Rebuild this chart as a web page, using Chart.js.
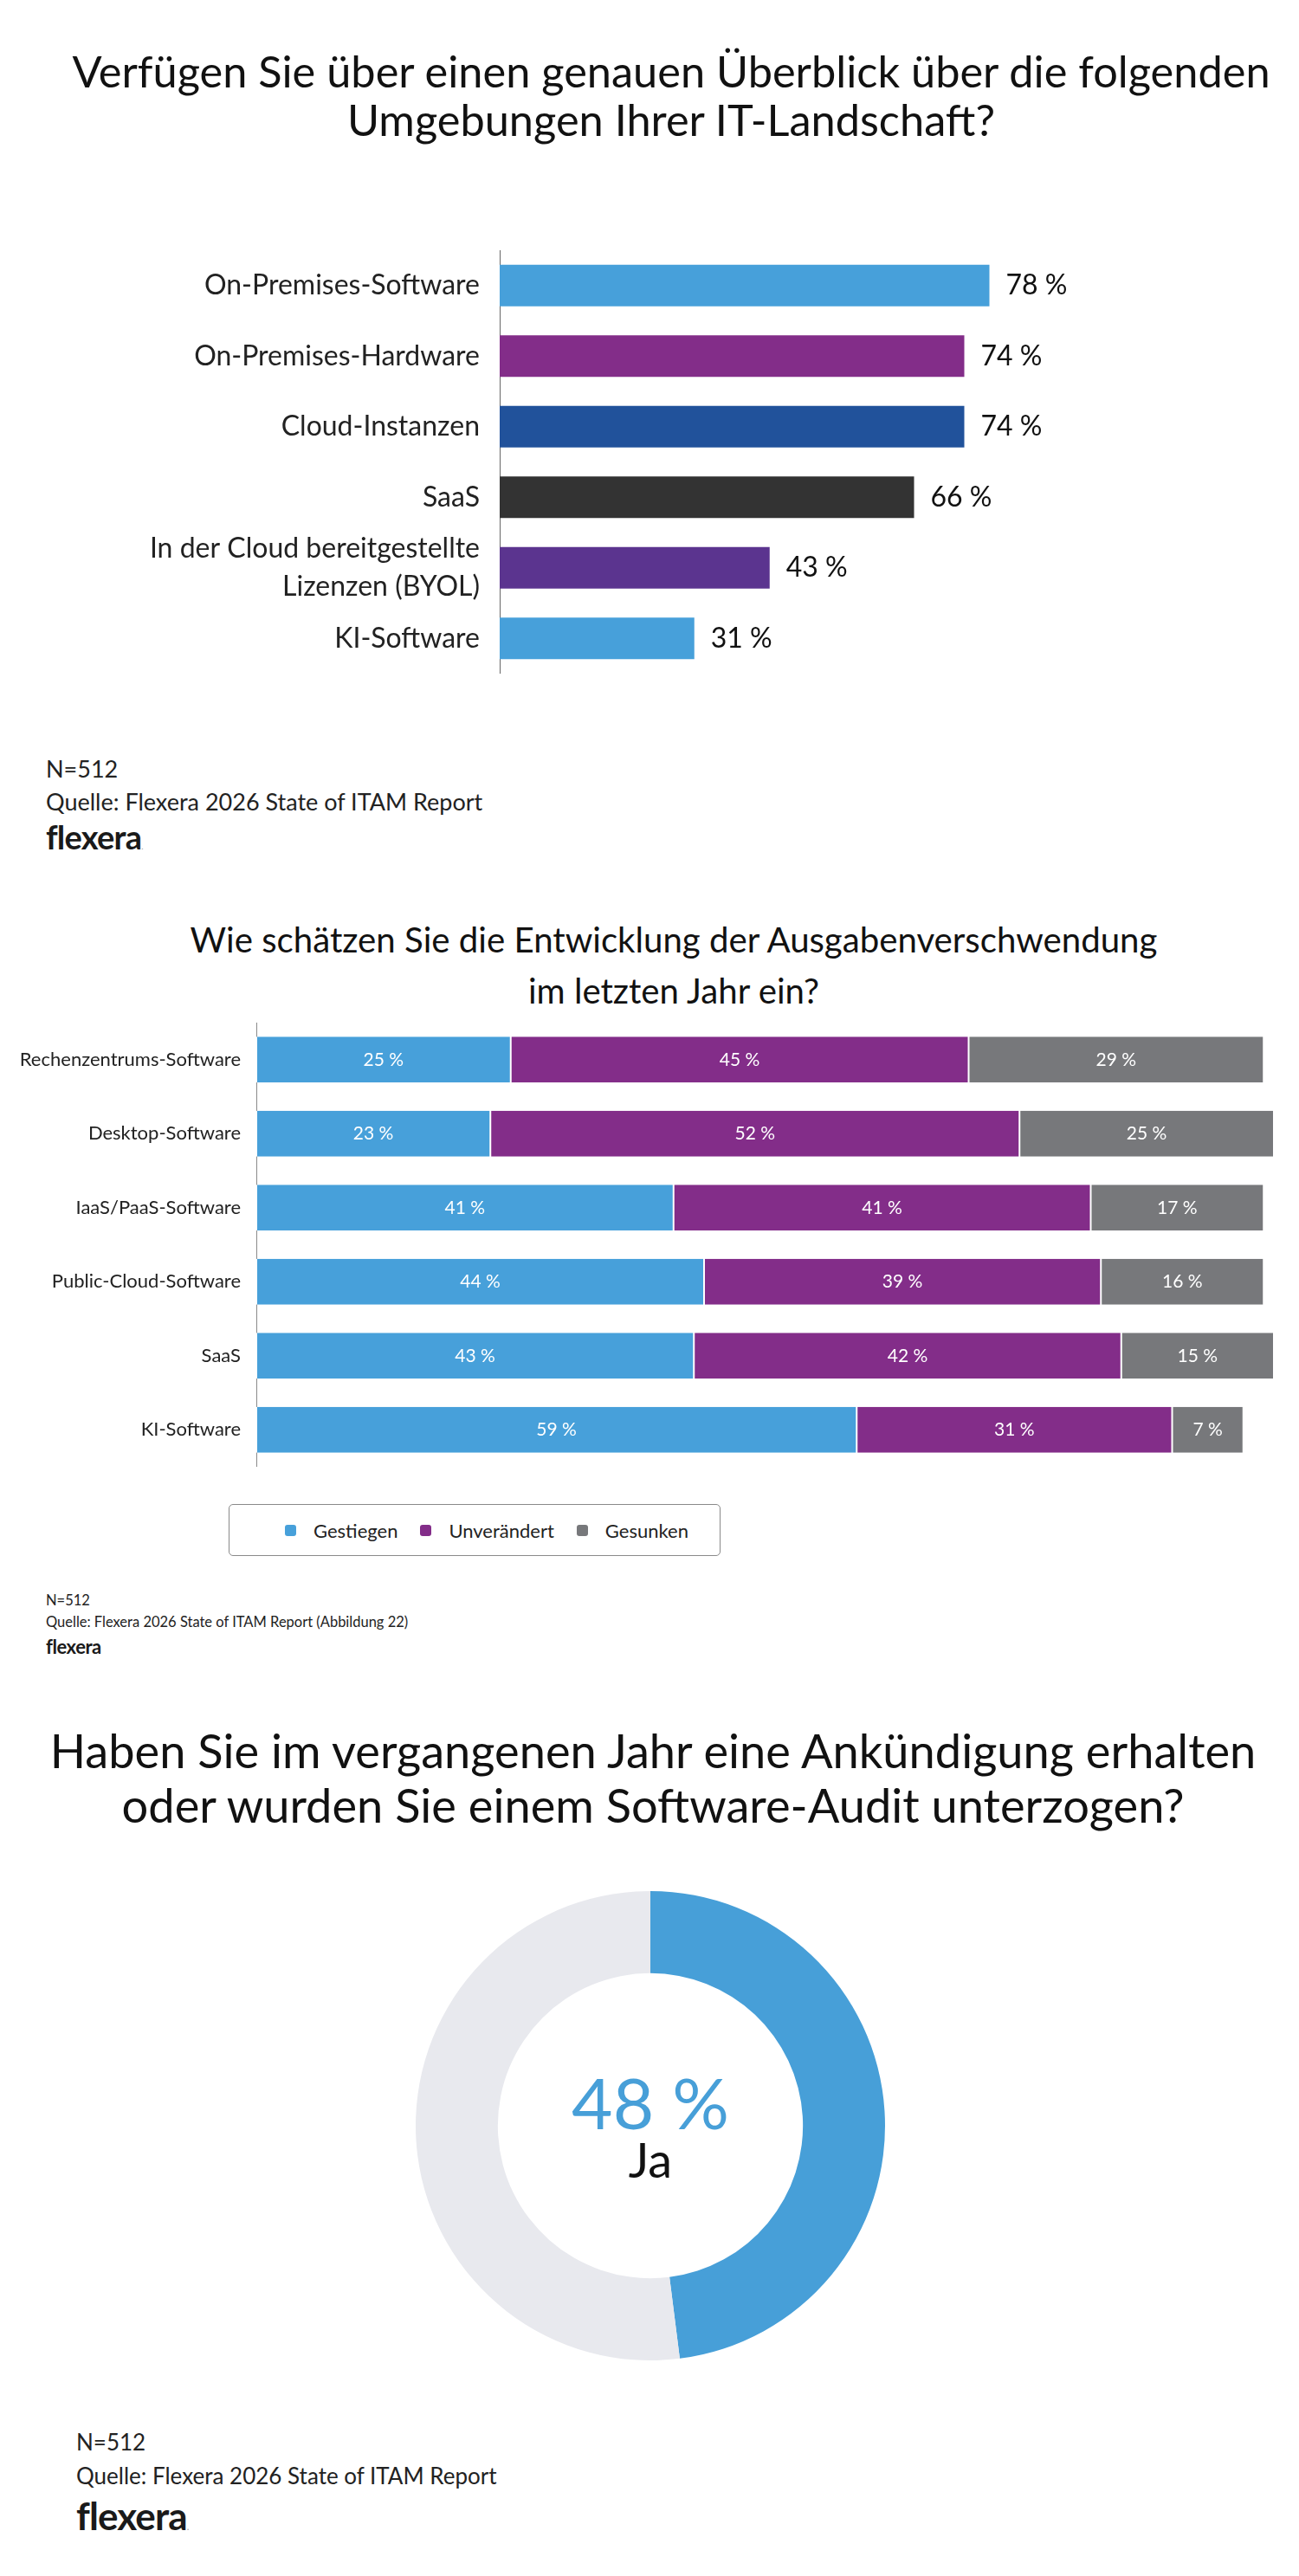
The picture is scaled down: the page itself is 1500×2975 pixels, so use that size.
<!DOCTYPE html>
<html lang="de">
<head>
<meta charset="utf-8">
<title>Flexera 2026 State of ITAM – Auszüge</title>
<script src="https://cdn.jsdelivr.net/npm/chart.js@4.4.1/dist/chart.umd.min.js"></script>
<style>
  html, body { margin: 0; padding: 0; background: #fff; }
  body { width: 1500px; height: 2975px; position: relative; overflow: hidden; font-family: Lato, "Noto Sans", sans-serif; color: #111; }
  .abs { position: absolute; }
  .title { left: 0; width: 1500px; text-align: center; white-space: nowrap; color: #111; box-sizing: border-box; }
  .foot { white-space: nowrap; color: #222; }
  .logo { font-weight: 700; letter-spacing: -0.02em; color: #1a1a1a; }
  .logo span { font-size: 0.25em; color: #999; font-weight: 400; }
  canvas { position: absolute; }
  .legend { border: 1.5px solid #8a8a8a; border-radius: 5px; box-sizing: border-box; display: flex; align-items: center; font-size: 22px; color: #222; }
  .legend .item { display: flex; align-items: center; }
  .legend .sw { width: 13px; height: 13px; border-radius: 3px; margin-right: 20px; }
</style>
</head>
<body>

<div class="abs title" style="top:54px; font-size:50.5px; line-height:56px; padding-left:50px;">
  Verfügen Sie über einen genauen Überblick über die folgenden<br>Umgebungen Ihrer IT-Landschaft?
</div>
<canvas id="envChart" width="1500" height="489" style="left:0; top:289px;"></canvas>
<div class="abs foot" style="left:53px; top:871px; font-size:27px; line-height:33px;">N=512</div>
<div class="abs foot" style="left:53px; top:909px; font-size:27px; line-height:33px;">Quelle: Flexera 2026 State of ITAM Report</div>
<div class="abs logo" style="left:53px; top:943px; font-size:38px; line-height:46px;">flexera<span>.</span></div>

<div class="abs title" style="top:1055px; font-size:40.2px; line-height:59px; padding-left:56px;">
  Wie schätzen Sie die Entwicklung der Ausgabenverschwendung<br>im letzten Jahr ein?
</div>
<canvas id="wasteChart" width="1500" height="513" style="left:0; top:1181px;"></canvas>
<div id="wasteLegend" class="abs legend" style="left:264px; top:1737px; width:568px; height:60px; padding-left:64px;"></div>
<div class="abs foot" style="left:53px; top:1838px; font-size:16.5px; line-height:20px;">N=512</div>
<div class="abs foot" style="left:53px; top:1863px; font-size:16.5px; line-height:20px;">Quelle: Flexera 2026 State of ITAM Report (Abbildung 22)</div>
<div class="abs logo" style="left:53px; top:1889px; font-size:22px; line-height:26px;">flexera</div>

<div class="abs title" style="top:1990px; font-size:54.2px; line-height:63px; padding-left:8px;">
  Haben Sie im vergangenen Jahr eine Ankündigung erhalten<br>oder wurden Sie einem Software-Audit unterzogen?
</div>
<canvas id="auditChart" width="546" height="546" style="left:478px; top:2182px;"></canvas>
<div class="abs foot" style="left:88px; top:2804px; font-size:26px; line-height:32px;">N=512</div>
<div class="abs foot" style="left:88px; top:2843px; font-size:26px; line-height:32px;">Quelle: Flexera 2026 State of ITAM Report</div>
<div class="abs logo" style="left:88px; top:2879px; font-size:44px; line-height:52px;">flexera<span>.</span></div>

<script>
// --- chart 1: overview of IT environments
const envLabels = [
  'On-Premises-Software',
  'On-Premises-Hardware',
  'Cloud-Instanzen',
  'SaaS',
  ['In der Cloud bereitgestellte', 'Lizenzen (BYOL)'],
  'KI-Software',
];
const envValues = [78, 74, 74, 66, 43, 31];
const envColors = ['#47a0da', '#832d89', '#21529b', '#333333', '#5b348f', '#47a0da'];

// --- chart 2: development of wasted spend
const wasteLabels = [
  'Rechenzentrums-Software',
  'Desktop-Software',
  'IaaS/PaaS-Software',
  'Public-Cloud-Software',
  'SaaS',
  'KI-Software',
];
const wasteSeries = ['Gestiegen', 'Unverändert', 'Gesunken'];
const wasteUp = [25, 23, 41, 44, 43, 59];
const wasteSame = [45, 52, 41, 39, 42, 31];
const wasteDown = [29, 25, 17, 16, 15, 7];
const wasteColors = ['#47a0da', '#832d89', '#77787b'];

// --- chart 3: audits
const auditLabels = ['Ja', 'Nein'];
const auditValues = [48, 52];
const auditColors = ['#479fd8', '#e8e9ee'];

Chart.defaults.font.family = 'Lato, "Noto Sans", sans-serif';
Chart.defaults.color = '#222';
Chart.defaults.animation = false;

// fixed label column, no extra room above/below the bars
function fixedWidth(w) {
  return (scale) => {
    scale.width = w;
    scale.paddingTop = 0;
    scale.paddingBottom = 0;
  };
}

const barValueLabels = {
  id: 'barValueLabels',
  afterDatasetsDraw(chart) {
    const ctx = chart.ctx;
    ctx.save();
    ctx.font = '32px Lato, "Noto Sans", sans-serif';
    ctx.fillStyle = '#111';
    ctx.textAlign = 'left';
    ctx.textBaseline = 'middle';
    chart.getDatasetMeta(0).data.forEach((bar, i) => {
      ctx.fillText(`${chart.data.datasets[0].data[i]} %`, bar.x + 19, bar.y);
    });
    ctx.restore();
  },
};

const segmentLabels = {
  id: 'segmentLabels',
  afterDatasetsDraw(chart) {
    const ctx = chart.ctx;
    ctx.save();
    ctx.font = '21px Lato, "Noto Sans", sans-serif';
    ctx.fillStyle = '#fff';
    ctx.textAlign = 'center';
    ctx.textBaseline = 'middle';
    chart.data.datasets.forEach((ds, d) => {
      chart.getDatasetMeta(d).data.forEach((bar, i) => {
        ctx.fillText(`${ds.data[i]} %`, (bar.x + bar.base) / 2, bar.y);
      });
    });
    ctx.restore();
  },
};

const donutCenter = {
  id: 'donutCenter',
  afterDraw(chart) {
    const arc = chart.getDatasetMeta(0).data[0];
    if (!arc) return;
    const ctx = chart.ctx;
    ctx.save();
    ctx.textAlign = 'center';
    ctx.textBaseline = 'middle';
    ctx.fillStyle = auditColors[0];
    ctx.font = '82px Lato, "Noto Sans", sans-serif';
    ctx.fillText(`${auditValues[0]} %`, arc.x, arc.y - 22);
    ctx.fillStyle = '#111';
    ctx.font = '56px Lato, "Noto Sans", sans-serif';
    ctx.fillText(auditLabels[0], arc.x, arc.y + 42);
    ctx.restore();
  },
};

function drawCharts() {
  new Chart(document.getElementById('envChart'), {
    type: 'bar',
    data: {
      labels: envLabels,
      datasets: [{ data: envValues, backgroundColor: envColors, barPercentage: 0.59, categoryPercentage: 1 }],
    },
    options: {
      indexAxis: 'y',
      responsive: false,
      layout: { padding: { left: 0, right: 198, top: 0, bottom: 0 } },
      plugins: { legend: { display: false }, tooltip: { enabled: false } },
      scales: {
        x: { display: false, min: 0, max: 100 },
        y: {
          afterFit: fixedWidth(577),
          grid: { display: false },
          border: { display: true, color: '#666', width: 1 },
          ticks: { autoSkip: false, padding: 15, color: '#222', font: { size: 32, lineHeight: 1.4 } },
        },
      },
    },
    plugins: [barValueLabels],
  });

  new Chart(document.getElementById('wasteChart'), {
    type: 'bar',
    data: {
      labels: wasteLabels,
      datasets: [wasteUp, wasteSame, wasteDown].map((vals, i) => ({
        label: wasteSeries[i],
        data: vals,
        backgroundColor: wasteColors[i],
        borderColor: '#fff',
        borderWidth: { left: 1, right: 1, top: 0, bottom: 0 },
        borderSkipped: false,
        barPercentage: 0.62,
        categoryPercentage: 1,
      })),
    },
    options: {
      indexAxis: 'y',
      responsive: false,
      layout: { padding: { left: 0, right: 29, top: 0, bottom: 0 } },
      plugins: { legend: { display: false }, tooltip: { enabled: false } },
      scales: {
        x: { display: false, stacked: true, min: 0, max: 100 },
        y: {
          stacked: true,
          afterFit: fixedWidth(296),
          grid: { display: false },
          border: { display: true, color: '#8a8a8a', width: 1 },
          ticks: { autoSkip: false, padding: 10, color: '#222', font: { size: 22 } },
        },
      },
    },
    plugins: [segmentLabels],
  });

  const legend = document.getElementById('wasteLegend');
  legend.innerHTML = wasteSeries
    .map((name, i) => `<div class="item" style="margin-right:${i < 2 ? 26 : 0}px"><div class="sw" style="background:${wasteColors[i]}"></div>${name}</div>`)
    .join('');

  new Chart(document.getElementById('auditChart'), {
    type: 'doughnut',
    data: {
      labels: auditLabels,
      datasets: [{ data: auditValues, backgroundColor: auditColors, borderWidth: 0 }],
    },
    options: {
      responsive: false,
      cutout: '65%',
      layout: { padding: 2 },
      plugins: { legend: { display: false }, tooltip: { enabled: false } },
    },
    plugins: [donutCenter],
  });
}

if (document.fonts && document.fonts.load) {
  Promise.all([document.fonts.load('30px Lato'), document.fonts.load('bold 30px Lato')])
    .catch(() => null)
    .then(drawCharts);
} else {
  drawCharts();
}
</script>
</body>
</html>
